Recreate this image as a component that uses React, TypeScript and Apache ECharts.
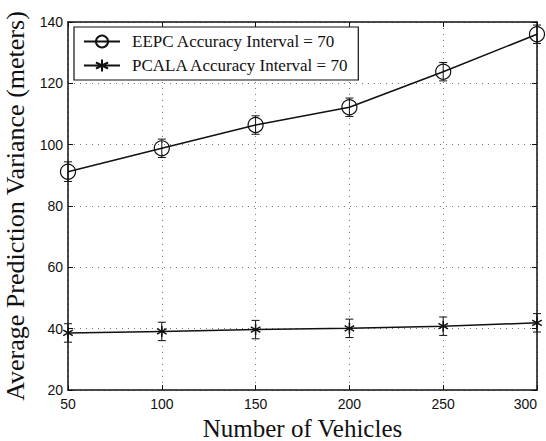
import React, { useEffect, useRef } from "react";
import * as echarts from "echarts";

const vehicles = [50, 100, 150, 200, 250, 300];
const eepcValues = [91.2, 98.8, 106.4, 112.2, 123.8, 136.0];
const eepcErrors = [3.2, 3.0, 3.0, 3.0, 3.0, 3.0];
const pcalaValues = [38.6, 39.1, 39.7, 40.1, 40.8, 41.9];
const pcalaErrors = [3.0, 3.0, 3.0, 3.0, 3.0, 3.0];
const eepcName = "EEPC Accuracy Interval = 70";
const pcalaName = "PCALA Accuracy Interval = 70";

const SERIF = "Liberation Serif";
const SANS = "Liberation Sans";
const ASTERISK = "path://M5,0L5,10M0.67,2.5L9.33,7.5M0.67,7.5L9.33,2.5";

function errorBars(values: number[], errs: number[]) {
  return vehicles.map((x, i) => [x, values[i] - errs[i], values[i] + errs[i]]);
}

function renderErrorBar(params: any, api: any) {
  const x = api.value(0);
  const lo = api.coord([x, api.value(1)]);
  const hi = api.coord([x, api.value(2)]);
  const w = 4;
  const style = { stroke: "#111", lineWidth: 1 };
  return {
    type: "group",
    children: [
      { type: "line", shape: { x1: lo[0], y1: lo[1], x2: hi[0], y2: hi[1] }, style },
      { type: "line", shape: { x1: lo[0] - w, y1: lo[1], x2: lo[0] + w, y2: lo[1] }, style },
      { type: "line", shape: { x1: hi[0] - w, y1: hi[1], x2: hi[0] + w, y2: hi[1] }, style },
    ],
  };
}

export default function App() {
  const ref = useRef<HTMLDivElement>(null);
  useEffect(() => {
    if (!ref.current) return;
    const chart = echarts.init(ref.current, undefined, { renderer: "svg" });
    const axisLine = { show: true, lineStyle: { color: "#111", width: 1.5 } };
    const tick = { show: true, inside: true, length: 5, lineStyle: { color: "#111", width: 1 } };
    const grid = { show: true, lineStyle: { color: "#777", type: [1, 5] as any, width: 1 } };
    chart.setOption({
      animation: false,
      backgroundColor: "#fff",
      grid: { left: 68, right: 9, top: 22, bottom: 51, containLabel: false, outerBoundsMode: "none" },
      legend: {
        orient: "vertical",
        left: 74,
        top: 27,
        padding: [6, 9, 6, 9],
        itemGap: 7,
        itemWidth: 36,
        itemHeight: 15,
        borderColor: "#111",
        borderWidth: 1.2,
        backgroundColor: "#fff",
        data: [eepcName, pcalaName],
        textStyle: { fontFamily: SERIF, fontSize: 17, color: "#111", padding: [0, 0, 0, 7] },
      },
      xAxis: [
        {
          type: "value",
          min: 50,
          max: 300,
          interval: 50,
          name: "Number of Vehicles",
          nameLocation: "middle",
          nameGap: 17,
          nameTextStyle: { fontFamily: SERIF, fontSize: 25, lineHeight: 25, color: "#111" },
          axisLine,
          axisTick: tick,
          axisLabel: { fontFamily: SANS, fontSize: 14, color: "#111", margin: 7, alignMaxLabel: "right" },
          splitLine: grid,
        },
        {
          type: "value",
          position: "top",
          min: 50,
          max: 300,
          interval: 50,
          axisLine,
          axisTick: tick,
          axisLabel: { show: false },
          splitLine: { show: false },
        },
      ],
      yAxis: [
        {
          type: "value",
          min: 20,
          max: 140,
          interval: 20,
          name: "Average Prediction Variance (meters)",
          nameLocation: "middle",
          nameGap: 33,
          nameTextStyle: { fontFamily: SERIF, fontSize: 26, color: "#111" },
          axisLine,
          axisTick: tick,
          axisLabel: { fontFamily: SANS, fontSize: 14, color: "#111", margin: 5 },
          splitLine: grid,
        },
        {
          type: "value",
          position: "right",
          min: 20,
          max: 140,
          interval: 20,
          axisLine,
          axisTick: tick,
          axisLabel: { show: false },
          splitLine: { show: false },
        },
      ],
      series: [
        {
          name: eepcName,
          type: "line",
          data: vehicles.map((x, i) => [x, eepcValues[i]]),
          symbol: "circle",
          symbolSize: 15,
          lineStyle: { color: "#111", width: 1.5 },
          itemStyle: { color: "rgba(0,0,0,0)", borderColor: "#111", borderWidth: 1.2 },
          z: 3,
        },
        {
          name: pcalaName,
          type: "line",
          data: vehicles.map((x, i) => [x, pcalaValues[i]]),
          symbol: ASTERISK,
          symbolSize: 11,
          symbolKeepAspect: true,
          lineStyle: { color: "#111", width: 1.5 },
          itemStyle: { color: "rgba(0,0,0,0)", borderColor: "#111", borderWidth: 1.5 },
          z: 3,
        },
        {
          name: "eepcErr",
          type: "custom",
          data: errorBars(eepcValues, eepcErrors),
          encode: { x: 0, y: [1, 2] },
          renderItem: renderErrorBar,
          z: 2,
        },
        {
          name: "pcalaErr",
          type: "custom",
          data: errorBars(pcalaValues, pcalaErrors),
          encode: { x: 0, y: [1, 2] },
          renderItem: renderErrorBar,
          z: 2,
        },
      ],
    });
    return () => chart.dispose();
  }, []);
  return <div ref={ref} style={{ width: 546, height: 441, position: "absolute", left: 0, top: 0 }} />;
}
